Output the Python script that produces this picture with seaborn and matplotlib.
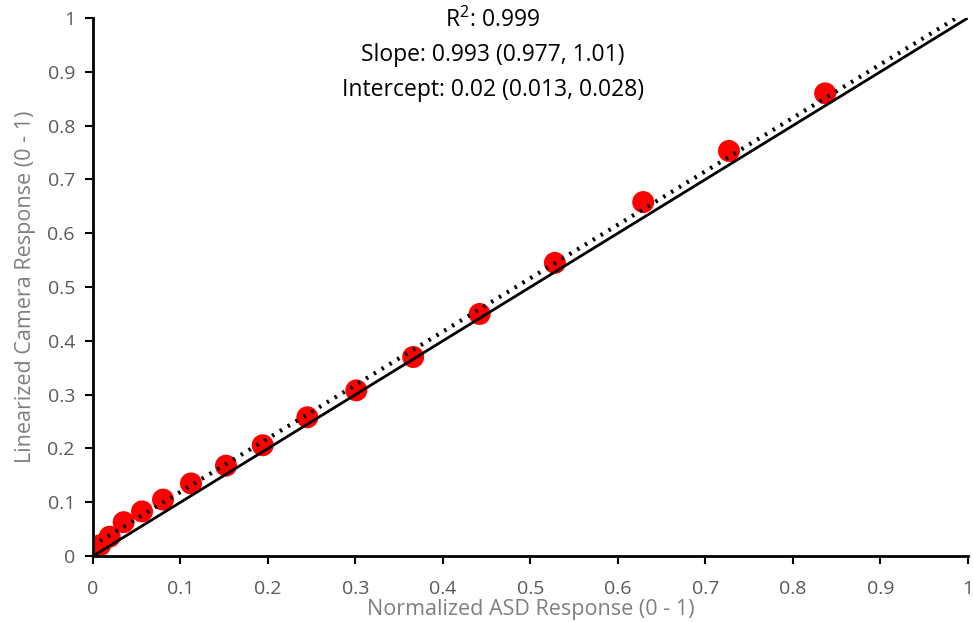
import matplotlib
matplotlib.use("Agg")
import matplotlib.pyplot as plt
import seaborn as sns
import numpy as np
import pandas as pd

asd = [0.008, 0.019, 0.035, 0.056, 0.080, 0.112, 0.152, 0.194, 0.245, 0.301,
       0.366, 0.442, 0.528, 0.629, 0.727, 0.837]
camera = [0.020, 0.036, 0.063, 0.083, 0.105, 0.135, 0.168, 0.206, 0.258, 0.308,
          0.370, 0.450, 0.545, 0.658, 0.753, 0.860]
slope = 0.993
intercept = 0.02
ticks = [0, 0.1, 0.2, 0.3, 0.4, 0.5, 0.6, 0.7, 0.8, 0.9, 1]
tick_labels = ["0", "0.1", "0.2", "0.3", "0.4", "0.5", "0.6", "0.7", "0.8", "0.9", "1"]
annotation = ["R$^2$: 0.999", "Slope: 0.993 (0.977, 1.01)", "Intercept: 0.02 (0.013, 0.028)"]

sns.set_theme(style="white")
plt.rcParams['font.family'] = ['Open Sans', 'DejaVu Sans']
plt.rcParams['mathtext.fontset'] = 'custom'
plt.rcParams['mathtext.rm'] = 'Open Sans'

df = pd.DataFrame({"asd": asd, "camera": camera})

fig = plt.figure(figsize=(9.73, 6.22), dpi=100)
ax = fig.add_axes([0.0956, 0.106, 0.899, 0.865])

sns.scatterplot(data=df, x="asd", y="camera", ax=ax, color="#ff0000", s=250,
                edgecolor="none", zorder=2, legend=False)
# 1:1 line
sns.lineplot(x=[0, 1], y=[0, 1], ax=ax, color="black", linewidth=2, zorder=3)
# fitted line
x_end = (1 - intercept) / slope
fx = np.array([min(asd), x_end])
sns.lineplot(x=fx, y=slope * fx + intercept, ax=ax, color="black", linewidth=3,
             linestyle=(0, (0.6, 1.6)), zorder=4)

ax.set_xlim(0, 1)
ax.set_ylim(0, 1)
ax.set_xticks(ticks)
ax.set_xticklabels(tick_labels)
ax.set_yticks(ticks)
ax.set_yticklabels(tick_labels)
for s in ["top", "right"]:
    ax.spines[s].set_visible(False)
for s in ["left", "bottom"]:
    ax.spines[s].set_color("black")
    ax.spines[s].set_linewidth(2)
ax.tick_params(axis="both", which="both", direction="out", length=6, width=1.5,
               color="black", labelcolor="#595959", labelsize=14,
               bottom=True, left=True)
ax.tick_params(axis="x", pad=11)
ax.tick_params(axis="y", pad=7)
ax.set_xlabel("Normalized ASD Response (0 - 1)", color="#7f7f7f", fontsize=15.5, labelpad=1)
ax.set_ylabel("Linearized Camera Response (0 - 1)", color="#7f7f7f", fontsize=15.5, labelpad=8)

for i, t in enumerate(annotation):
    ax.text(0.457, 0.995 - i * 0.064, t, ha="center", va="center", fontsize=16.5,
            color="black", transform=ax.transData)

fig.savefig("out.png", dpi=100)
